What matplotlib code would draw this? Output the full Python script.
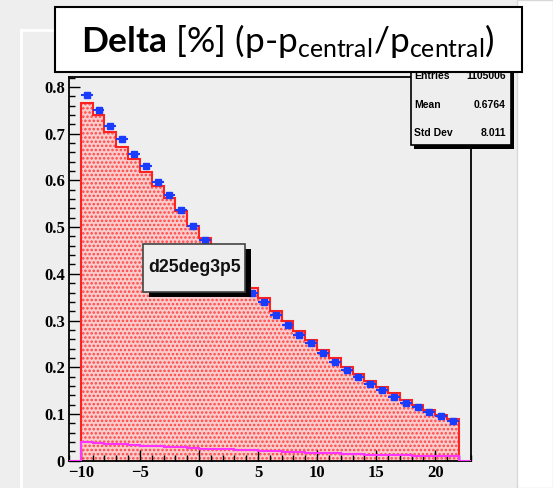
import numpy as np
import matplotlib
matplotlib.use("Agg")
import matplotlib.pyplot as plt
from matplotlib.patches import Rectangle
from matplotlib.ticker import MultipleLocator

# histogram contents, 1 unit bins from -10 to 22
bin_edges = list(range(-10, 23))
blue_vals = [0.782, 0.751, 0.717, 0.689, 0.656, 0.630, 0.596, 0.569, 0.537, 0.503,
             0.472, 0.444, 0.414, 0.386, 0.360, 0.339, 0.312, 0.291, 0.270, 0.251,
             0.231, 0.212, 0.194, 0.179, 0.164, 0.151, 0.137, 0.124, 0.116, 0.104,
             0.096, 0.086]
red_vals = [0.765, 0.739, 0.704, 0.672, 0.646, 0.618, 0.587, 0.562, 0.535, 0.503,
            0.476, 0.447, 0.420, 0.393, 0.369, 0.348, 0.321, 0.298, 0.278, 0.258,
            0.237, 0.219, 0.201, 0.186, 0.171, 0.157, 0.144, 0.130, 0.119, 0.109,
            0.098, 0.089]
magenta_vals = [0.039, 0.038, 0.036, 0.035, 0.034, 0.032, 0.031, 0.030, 0.029, 0.027,
                0.026, 0.025, 0.024, 0.023, 0.022, 0.021, 0.020, 0.019, 0.018, 0.017,
                0.016, 0.016, 0.015, 0.014, 0.013, 0.013, 0.012, 0.012, 0.011, 0.011,
                0.010, 0.010]
x_range = (-11, 23)

stat_names = ["Entries", "Mean", "Std Dev"]
stat_values = ["1105006", "0.6764", "8.011"]
hist_name = "d25deg3p5"

plt.rcParams['mathtext.fontset'] = 'custom'
plt.rcParams['mathtext.rm'] = 'Lato'
plt.rcParams['mathtext.bf'] = 'Lato:bold'
plt.rcParams['mathtext.it'] = 'Lato:italic'
plt.rcParams['hatch.linewidth'] = 1.2

W, H = 553, 488
bg = '#eeeeee'
fig = plt.figure(figsize=(W / 100, H / 100), dpi=100, facecolor=bg)

# main frame, in pixel positions of the reference
left, right, top, bottom = 69, 470.7, 76.7, 460.7
ax = fig.add_axes([left / W, 1 - bottom / H, (right - left) / W, (bottom - top) / H])
ax.set_facecolor(bg)

edges = np.array(bin_edges)
centers = (edges[:-1] + edges[1:]) / 2

ax.stairs(red_vals, edges, fill=True, facecolor='#fbcccc', edgecolor='#ff4444',
          hatch='....', linewidth=0, zorder=1)
ax.stairs(red_vals, edges, color='#ff2020', lw=1.5, baseline=0, zorder=2)

full_edges = np.concatenate([[x_range[0]], edges, [x_range[1]]])
ax.stairs(np.concatenate([[0], magenta_vals, [0]]), full_edges, color='#ff33ff',
          lw=1.5, baseline=None, zorder=3)

ax.errorbar(centers, blue_vals, xerr=0.5, fmt='s', color='#1a3cff', ms=5,
            elinewidth=1.5, capsize=0, zorder=4)

ax.set_xlim(*x_range)
ax.set_ylim(0, 0.822)
ax.xaxis.set_major_locator(MultipleLocator(5))
ax.xaxis.set_minor_locator(MultipleLocator(1))
ax.yaxis.set_minor_locator(MultipleLocator(0.02))
ax.set_yticks(np.arange(0, 0.81, 0.1))
ax.set_yticklabels(['0', '0.1', '0.2', '0.3', '0.4', '0.5', '0.6', '0.7', '0.8'])
ax.tick_params(which='both', direction='in', top=False, right=False, width=1,
               labelsize=12, pad=3)
ax.tick_params(which='major', length=8)
ax.tick_params(which='minor', length=4)
for lab in ax.get_xticklabels() + ax.get_yticklabels():
    lab.set_fontfamily('Liberation Serif')
    lab.set_fontweight('bold')
for s in ax.spines.values():
    s.set_linewidth(1.3)

# overlay in pixel coordinates for boxes
ov = fig.add_axes([0, 0, 1, 1], zorder=5)
ov.set_xlim(0, W)
ov.set_ylim(H, 0)
ov.axis('off')
ov.patch.set_alpha(0)

# canvas bevel and white margin on the right
ov.add_patch(Rectangle((517, 0), W - 517, H, facecolor='white', edgecolor='#d8d8d8', lw=1))
ov.plot([21, 21], [30, H], color='white', lw=2)
ov.plot([21, 517], [30, 30], color='white', lw=2)

# stats box
ov.add_patch(Rectangle((413.5, 58), 100, 91, facecolor='black', edgecolor='none'))
ov.add_patch(Rectangle((410.5, 55), 100, 90, facecolor=bg, edgecolor='black', lw=1.2))
for k, (n, v) in enumerate(zip(stat_names, stat_values)):
    y = 76 + 28.5 * k
    ov.text(414, y, n, fontsize=7.5, fontweight='bold', family='Liberation Sans',
            ha='left', va='center')
    ov.text(506, y, v, fontsize=7.5, fontweight='bold', family='Liberation Sans',
            ha='right', va='center')

# histogram name box
ov.add_patch(Rectangle((148.5, 249), 102, 48, facecolor='black', edgecolor='none'))
ov.add_patch(Rectangle((143.3, 244), 102, 47.7, facecolor=bg, edgecolor='#444444', lw=1.2))
ov.text(194.3, 268, hist_name, fontsize=12.7, fontweight='bold', family='Liberation Sans',
        ha='center', va='center', color='#111111')

# title text box
ov.add_patch(Rectangle((55, 7.3), 466.7, 64.4, facecolor='white', edgecolor='black',
                       lw=1.5, zorder=6))
ov.text(288, 41, r"$\mathbf{Delta}$ [%] (p-p$_{\mathrm{central}}$/p$_{\mathrm{central}}$)",
        fontsize=25.5, family='Lato', ha='center', va='center', zorder=7)

fig.savefig('out.png', dpi=100, facecolor=bg)
